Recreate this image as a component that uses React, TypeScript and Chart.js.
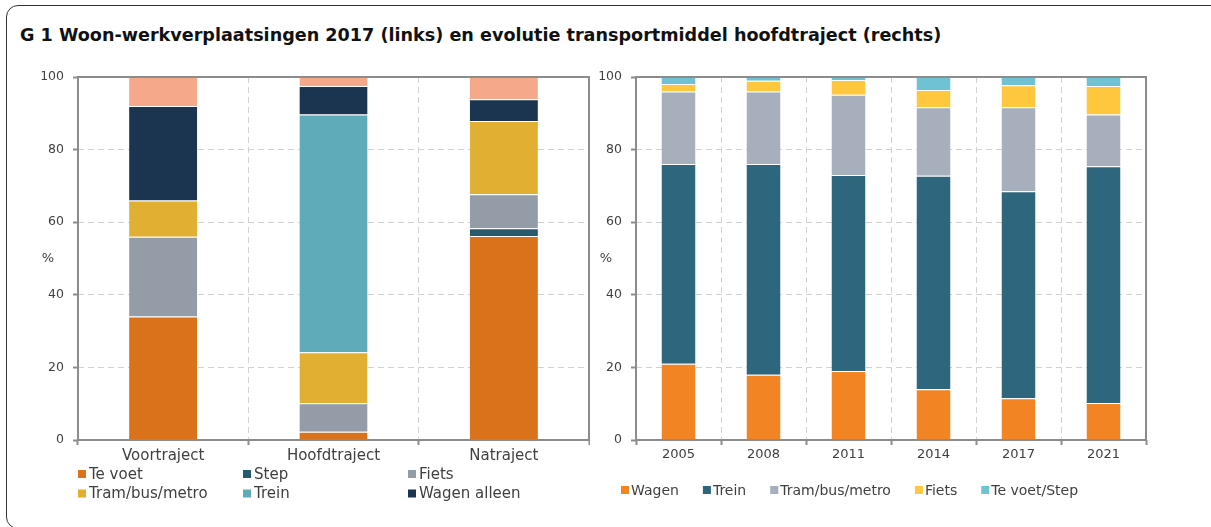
import React, { useEffect, useRef } from 'react';
import { Chart, registerables } from 'chart.js';

Chart.register(...registerables);

const FONT = '"DejaVu Sans", sans-serif';
const TEXT = '#404040';
const AXIS = '#8c8c8c';
const GRID = '#d2d2d2';

const TITLE = 'G 1 Woon-werkverplaatsingen 2017 (links) en evolutie transportmiddel hoofdtraject (rechts)';

// Left chart: woon-werkverplaatsingen 2017 (%)
const leftCategories = ['Voortraject', 'Hoofdtraject', 'Natraject'];
const teVoet = [34, 2.3, 56.2];
const step = [0, 0, 2.1];
const fiets = [22, 7.8, 9.4];
const tramBusMetro = [10, 14.1, 20.2];
const trein = [0, 65.5, 0];
const wagenAlleen = [26, 7.8, 6];
const wagenSamen = [8, 2.5, 6.1];

// Right chart: evolutie transportmiddel hoofdtraject (%)
const years = ['2005', '2008', '2011', '2014', '2017', '2021'];
const wagen = [21, 18, 19, 14, 11.5, 10.2];
const treinR = [55, 58, 54, 58.8, 57, 65.2];
const tramBusMetroR = [20, 20, 22.1, 18.9, 23.2, 14.3];
const fietsR = [2.1, 3, 4.1, 4.7, 6, 7.8];
const teVoetStep = [1.9, 1, 0.8, 3.6, 2.3, 2.5];

const yTicks = [0, 20, 40, 60, 80, 100];

const SEP = 'rgba(255,255,255,0.55)';

function ds(label: string, data: number[], color: string, inLegend = true) {
  return {
    label,
    data,
    backgroundColor: color,
    borderColor: SEP,
    borderWidth: { top: 1, bottom: 0, left: 0, right: 0 },
    inLegend,
  };
}

function makePlugin(kind: 'left' | 'right') {
  return {
    id: 'frameLegend_' + kind,
    afterDraw(chart: any) {
      const { ctx, chartArea: a } = chart;
      ctx.save();
      ctx.strokeStyle = AXIS;
      ctx.lineWidth = 2;
      ctx.strokeRect(a.left, a.top, a.right - a.left, a.bottom - a.top);

      ctx.fillStyle = TEXT;
      ctx.font = '13px ' + FONT;
      ctx.textAlign = 'center';
      ctx.textBaseline = 'middle';
      ctx.fillText('%', a.left - 30, (a.top + a.bottom) / 2);

      const items = chart.data.datasets.filter((d: any) => d.inLegend);
      ctx.textAlign = 'left';
      const box = 8;
      if (kind === 'left') {
        ctx.font = '15px ' + FONT;
        const cols = [0, 165, 330];
        items.forEach((d: any, i: number) => {
          const x = a.left + cols[i % 3];
          const y = a.bottom + 34 + Math.floor(i / 3) * 19.5;
          ctx.fillStyle = d.backgroundColor;
          ctx.fillRect(x, y - box / 2, box, box);
          ctx.fillStyle = TEXT;
          ctx.fillText(d.label, x + box + 3, y + 1);
        });
      } else {
        ctx.font = '14px ' + FONT;
        let x = a.left - 15;
        const y = a.bottom + 50;
        items.forEach((d: any) => {
          ctx.fillStyle = d.backgroundColor;
          ctx.fillRect(x, y - box / 2, box, box);
          ctx.fillStyle = TEXT;
          ctx.fillText(d.label, x + box + 2, y + 1);
          x += box + 2 + ctx.measureText(d.label).width + 24;
        });
      }
      ctx.restore();
    },
  };
}

function makeOptions(padding: any, xFontSize: number) {
  return {
    responsive: false,
    animation: false,
    layout: { padding },
    plugins: {
      legend: { display: false },
      tooltip: { enabled: false },
      title: { display: false },
    },
    datasets: { bar: { categoryPercentage: 1, barPercentage: 0.4 } },
    scales: {
      x: {
        stacked: true,
        afterFit: (s: any) => {
          s.height = 25;
        },
        grid: {
          offset: true,
          color: GRID,
          lineWidth: 1,
          tickColor: AXIS,
          tickWidth: 2,
          tickLength: 5,
        },
        border: { display: false, dash: [6, 4] },
        ticks: {
          color: TEXT,
          font: { family: FONT, size: xFontSize },
          padding: 2,
          maxRotation: 0,
          autoSkip: false,
        },
      },
      y: {
        stacked: true,
        min: 0,
        max: 100,
        afterFit: (s: any) => {
          s.width = 40;
        },
        afterBuildTicks: (s: any) => {
          s.ticks = yTicks.map((v) => ({ value: v }));
        },
        grid: {
          color: GRID,
          lineWidth: 1,
          tickColor: AXIS,
          tickWidth: 2,
          tickLength: 5,
        },
        border: { display: false, dash: [6, 4] },
        ticks: {
          color: TEXT,
          font: { family: FONT, size: 12.5 },
          padding: 9,
        },
      },
    },
  };
}

function ChartCanvas({ config, left, width }: { config: () => any; left: number; width: number }) {
  const ref = useRef<HTMLCanvasElement | null>(null);
  useEffect(() => {
    if (!ref.current) return;
    const chart = new Chart(ref.current, config());
    return () => chart.destroy();
  }, []);
  return (
    <canvas
      ref={ref}
      width={width}
      height={467}
      style={{ position: 'absolute', left, top: 60, width, height: 467, display: 'block' }}
    />
  );
}

const leftConfig = () => ({
  type: 'bar',
  data: {
    labels: leftCategories,
    datasets: [
      ds('Te voet', teVoet, '#DA721C'),
      ds('Step', step, '#285A6E'),
      ds('Fiets', fiets, '#939CA7'),
      ds('Tram/bus/metro', tramBusMetro, '#E1B033'),
      ds('Trein', trein, '#60ABBA'),
      ds('Wagen alleen', wagenAlleen, '#1B344F'),
      ds('Wagen samen', wagenSamen, '#F6A98A', false),
    ],
  },
  options: makeOptions({ left: 38, right: 1, top: 17, bottom: 62 }, 15),
  plugins: [makePlugin('left')],
});

const rightConfig = () => ({
  type: 'bar',
  data: {
    labels: years,
    datasets: [
      ds('Wagen', wagen, '#F28424'),
      ds('Trein', treinR, '#2E677D'),
      ds('Tram/bus/metro', tramBusMetroR, '#A6AFBB'),
      ds('Fiets', fietsR, '#FFC73D'),
      ds('Te voet/Step', teVoetStep, '#6EC2D3'),
    ],
  },
  options: makeOptions({ left: 6, right: 65, top: 17, bottom: 62 }, 13),
  plugins: [makePlugin('right')],
});

export default function App() {
  return (
    <div
      style={{
        position: 'absolute',
        left: 0,
        top: 0,
        width: 1211,
        height: 527,
        overflow: 'hidden',
        background: '#ffffff',
      }}
    >
      <div
        style={{
          position: 'absolute',
          left: 6,
          top: 5,
          width: 1230,
          height: 524,
          border: '1.5px solid #333',
          borderRadius: 12,
          boxSizing: 'border-box',
        }}
      />
      <div
        style={{
          position: 'absolute',
          left: 20,
          top: 24,
          fontFamily: FONT,
          fontWeight: 'bold',
          fontSize: 17.6,
          lineHeight: '22px',
          color: '#111',
          whiteSpace: 'nowrap',
        }}
      >
        {TITLE}
      </div>
      <ChartCanvas config={leftConfig} left={0} width={590} />
      <ChartCanvas config={rightConfig} left={590} width={621} />
    </div>
  );
}
